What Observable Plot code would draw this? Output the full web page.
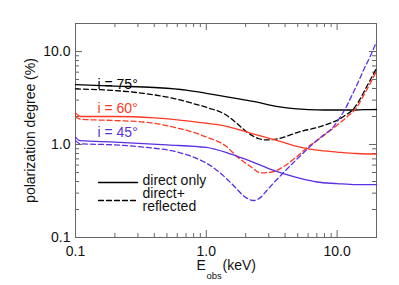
<!DOCTYPE html>
<html>
<head>
<meta charset="utf-8">
<script src="https://cdn.jsdelivr.net/npm/d3@7"></script>
<script src="https://cdn.jsdelivr.net/npm/@observablehq/plot@0.6"></script>
<style>
  html, body { margin: 0; padding: 0; background: #fff; }
</style>
</head>
<body>
<div id="chart"></div>
<script>
// ---- data ----
const e75Direct = [0.1, 0.2, 0.4, 0.7, 1.0, 1.4, 2.0, 2.5, 3.0, 4.0, 5.0, 6.0, 8.0, 10, 13, 16, 20];
const p75Direct = [4.41, 4.25, 4.1, 3.85, 3.55, 3.27, 3.0, 2.84, 2.66, 2.49, 2.42, 2.37, 2.35, 2.35, 2.35, 2.37, 2.38];

const e75Refl = [0.1, 0.2, 0.33, 0.58, 0.8, 1.04, 1.4, 1.7, 2.06, 2.5, 2.9, 3.5, 5.25, 7, 8.9, 10, 11.5, 13.3, 14.5, 16.4, 18, 20];
const p75Refl = [3.96, 3.8, 3.55, 3.1, 2.75, 2.47, 2.1, 1.7, 1.35, 1.16, 1.12, 1.15, 1.38, 1.52, 1.7, 1.82, 2.05, 2.4, 2.85, 3.9, 5.0, 6.6];

const e60Direct = [0.1, 0.11, 0.2, 0.4, 0.6, 0.9, 1.4, 2.2, 3.5, 5.3, 7, 10, 14, 20];
const p60Direct = [2.18, 2.0, 2.0, 1.93, 1.84, 1.72, 1.58, 1.32, 1.1, 0.93, 0.87, 0.83, 0.8, 0.79];

const e60Refl = [0.1, 0.11, 0.2, 0.37, 0.58, 0.8, 1.04, 1.4, 1.72, 2.18, 2.6, 3.0, 3.5, 3.9, 5.25, 5.9, 7, 8.5, 10.2, 12, 13.8, 16, 18, 20];
const p60Refl = [1.97, 1.87, 1.81, 1.72, 1.52, 1.35, 1.18, 0.97, 0.74, 0.58, 0.495, 0.5, 0.53, 0.58, 0.8, 0.93, 1.1, 1.35, 1.65, 2.0, 2.4, 3.4, 4.6, 6.15];

const e45Direct = [0.1, 0.108, 0.2, 0.5, 1.0, 1.5, 2.2, 3.0, 4.0, 5.3, 7, 10, 14, 20];
const p45Direct = [1.2, 1.1, 1.06, 0.99, 0.93, 0.8, 0.66, 0.55, 0.48, 0.43, 0.395, 0.38, 0.37, 0.37];

const e45Refl = [0.1, 0.108, 0.2, 0.35, 0.58, 0.8, 1.0, 1.2, 1.4, 1.62, 2.0, 2.3, 2.6, 2.9, 3.4, 3.9, 5.0, 6.2, 7.5, 9.4, 10.5, 11.5, 13, 14.6, 16, 18, 20];
const p45Refl = [1.1, 1.02, 0.99, 0.93, 0.84, 0.73, 0.63, 0.53, 0.44, 0.36, 0.27, 0.25, 0.27, 0.32, 0.41, 0.5, 0.71, 0.95, 1.2, 1.56, 1.95, 2.4, 3.4, 4.8, 6.4, 9.0, 12.7];

const inclinationLabels = ["i = 75°", "i = 60°", "i = 45°"];
const legendLabels = ["direct only", "direct+", "reflected"];

const majorTicks = [0.1, 1, 10];
const majorTickLabels = ["0.1", "1.0", "10.0"];
const minorTicks = [0.2, 0.3, 0.4, 0.5, 0.6, 0.7, 0.8, 0.9, 2, 3, 4, 5, 6, 7, 8, 9];

// ---- layout & styles ----
const W = 399, H = 285, ML = 75, MR = 23, MT = 23, MB = 48;
const frameW = W - ML - MR, frameH = H - MT - MB;
const colors = {75: "#000000", 60: "#ff3a22", 45: "#5b2fe2"};
const dash = "5,3";
const font = "'Liberation Sans', Arial, Helvetica, sans-serif";
const axisGray = "#666";

const toRows = (xs, ys) => xs.map((x, i) => ({x, y: ys[i]}));
const series = [
  {rows: toRows(e75Direct, p75Direct), color: colors[75], dashed: false},
  {rows: toRows(e75Refl, p75Refl), color: colors[75], dashed: true},
  {rows: toRows(e60Direct, p60Direct), color: colors[60], dashed: false},
  {rows: toRows(e60Refl, p60Refl), color: colors[60], dashed: true},
  {rows: toRows(e45Direct, p45Direct), color: colors[45], dashed: false},
  {rows: toRows(e45Refl, p45Refl), color: colors[45], dashed: true}
];

const shapeOf = (ux, uy) => ({draw(ctx, l) { ctx.moveTo(0, 0); ctx.lineTo(ux * l, uy * l); }});
const fmt = (d) => majorTickLabels[majorTicks.indexOf(d)] ?? "";

const marks = [];
// frame
marks.push(Plot.frame({stroke: axisGray}));
// inward ticks on all four sides (rules inset to tick length)
for (const [ticks, len] of [[majorTicks, 7], [minorTicks, 4]]) {
  marks.push(Plot.ruleX(ticks, {x: (d) => d, insetTop: frameH - len, stroke: axisGray}));     // bottom
  marks.push(Plot.ruleX(ticks, {x: (d) => d, insetBottom: frameH - len, stroke: axisGray}));  // top
  marks.push(Plot.ruleY(ticks, {y: (d) => d, insetRight: frameW - len, stroke: axisGray}));   // left
  marks.push(Plot.ruleY(ticks, {y: (d) => d, insetLeft: frameW - len, stroke: axisGray}));    // right
}
// tick labels
marks.push(Plot.axisX(majorTicks, {anchor: "bottom", tickSize: 0, tickPadding: 9, tickFormat: fmt, fill: "#111", fontSize: 14, label: null}));
marks.push(Plot.axisY(majorTicks, {anchor: "left", tickSize: 0, tickPadding: 5, tickFormat: fmt, fill: "#111", fontSize: 14, label: null}));

// curves
for (const s of series) {
  marks.push(Plot.line(s.rows, {
    x: "x", y: "y", stroke: s.color, strokeWidth: 1.3,
    strokeDasharray: s.dashed ? dash : null, curve: "monotone-x"
  }));
}

// inclination labels
inclinationLabels.forEach((t, i) => {
  marks.push(Plot.text([t], {
    text: (d) => d, frameAnchor: "top-left", textAnchor: "start", lineAnchor: "middle",
    dx: 22, dy: 61 + 24 * i, fill: [colors[75], colors[60], colors[45]][i], fontSize: 14
  }));
});

// legend
marks.push(Plot.vector([0], {frameAnchor: "bottom-left", dx: 23, dy: -55, length: 39, anchor: "start", shape: shapeOf(1, 0), stroke: "#000", strokeWidth: 1.3}));
marks.push(Plot.vector([0], {frameAnchor: "bottom-left", dx: 23, dy: -37, length: 39, anchor: "start", shape: shapeOf(1, 0), stroke: "#000", strokeWidth: 1.3, strokeDasharray: dash}));
legendLabels.forEach((t, i) => {
  marks.push(Plot.text([t], {
    text: (d) => d, frameAnchor: "bottom-left", textAnchor: "start", lineAnchor: "middle",
    dx: 67, dy: [-57, -44, -31][i], fill: "#111", fontSize: 14
  }));
});

// axis titles
marks.push(Plot.text(["polarization degree (%)"], {
  text: (d) => d, frameAnchor: "left", rotate: -90, dx: -45, textAnchor: "middle", lineAnchor: "middle", fill: "#111", fontSize: 14
}));
marks.push(Plot.text(["E"], {text: (d) => d, frameAnchor: "bottom", textAnchor: "start", lineAnchor: "middle", dx: -29.5, dy: 28, fill: "#111", fontSize: 14}));
marks.push(Plot.text(["obs"], {text: (d) => d, frameAnchor: "bottom", textAnchor: "start", lineAnchor: "middle", dx: -19.5, dy: 38, fill: "#111", fontSize: 9.5}));
marks.push(Plot.text(["(keV)"], {text: (d) => d, frameAnchor: "bottom", textAnchor: "start", lineAnchor: "middle", dx: -3.5, dy: 28, fill: "#111", fontSize: 14}));

const chart = Plot.plot({
  width: W,
  height: H,
  marginLeft: ML,
  marginRight: MR,
  marginTop: MT,
  marginBottom: MB,
  x: {type: "log", domain: [0.1, 20], axis: null},
  y: {type: "log", domain: [0.1, 20], axis: null},
  style: {fontFamily: font, fontSize: "14px", background: "#fff", color: "#111"},
  marks
});
document.getElementById("chart").appendChild(chart);
</script>
</body>
</html>
